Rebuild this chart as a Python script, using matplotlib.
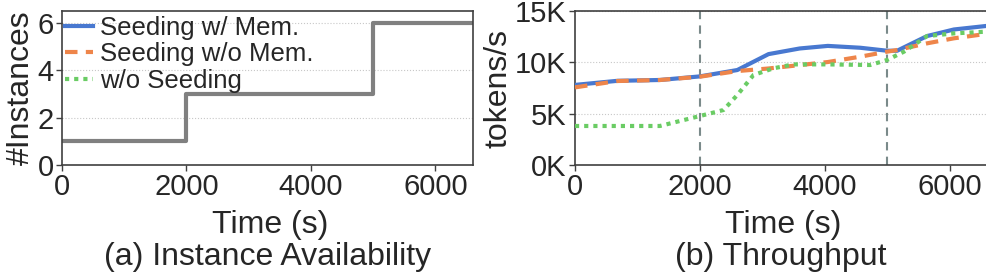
import matplotlib
matplotlib.use("Agg")
import matplotlib.pyplot as plt
from matplotlib.ticker import FuncFormatter

plt.rcParams['font.family'] = ['Liberation Sans', 'DejaVu Sans']
TXT = '#262626'

# ---- data ----
inst_time = [0, 2000, 5000, 6600]
inst_count = [1, 3, 6, 6]

t_mem = [0, 680, 1360, 2000, 2600, 3100, 3600, 4050, 4570, 5000, 5160, 5640, 6070, 6600]
seed_mem = [7800, 8200, 8280, 8630, 9250, 10800, 11350, 11600, 11420, 11130, 11130, 12560, 13200, 13550]

t_nomem = [0, 680, 1360, 2000, 2600, 3100, 3600, 4050, 4570, 5000, 5160, 5640, 6070, 6600]
seed_nomem = [7560, 8180, 8280, 8600, 9150, 9400, 9730, 10030, 10550, 11040, 11200, 11850, 12340, 12780]

t_noseed = [0, 700, 1360, 2000, 2380, 2600, 2860, 3180, 3500, 4040, 4730, 5000, 5270, 5640, 6070, 6600]
no_seed = [3800, 3800, 3800, 4770, 5360, 6820, 8770, 9420, 9800, 9800, 9740, 10230, 11040, 12560, 12820, 12990]

events = [2000, 5000]
labels = ["Seeding w/ Mem.", "Seeding w/o Mem.", "w/o Seeding"]
colors = ["#4878d0", "#ee854a", "#6acc64"]

W, H = 986, 273
fig = plt.figure(figsize=(W / 100, H / 100), dpi=100)
axL = fig.add_axes([62/W, 1-165/H, 410.7/W, 154/H])
axR = fig.add_axes([575/W, 1-165/H, 412/W, 154/H])

FS = 21
LFS = 23

def style(ax):
    for s in ax.spines.values():
        s.set_color('#404040')
        s.set_linewidth(1.2)
    ax.tick_params(axis='both', labelsize=FS, colors='#404040', labelcolor=TXT,
                   length=4, width=1.0, pad=2)
    ax.grid(axis='y', color='#c8c8c8', linestyle=':', linewidth=0.8)
    ax.set_axisbelow(True)

# left
axL.step(inst_time, inst_count, where='post', color='#808080', lw=3)
h1, = axL.plot([], [], color=colors[0], lw=3, label=labels[0])
h2, = axL.plot([], [], color=colors[1], lw=3, ls=(0, (3, 2)), label=labels[1])
h3, = axL.plot([], [], color=colors[2], lw=3, ls=(0, (1, 1.2)), label=labels[2])
axL.set_xlim(0, 6600)
axL.set_ylim(0, 6.5)
axL.set_yticks([0, 2, 4, 6])
axL.set_xticks([0, 2000, 4000, 6000])
axL.set_ylabel('#Instances', fontsize=LFS, color=TXT, labelpad=1)
style(axL)
leg = axL.legend(handles=[h1, h2, h3], loc='upper left', frameon=False,
                 fontsize=18.5, handlelength=1.1, handletextpad=0.28,
                 labelspacing=0.1, borderaxespad=0.0, borderpad=0.1,
                 bbox_to_anchor=(0.0, 0.985))
for t in leg.get_texts():
    t.set_color(TXT)

# right
for x in events:
    axR.axvline(x, color='#7a8a8a', ls=(0, (4, 3)), lw=1.5, zorder=1)
axR.plot(t_mem, seed_mem, color=colors[0], lw=3, zorder=3)
axR.plot(t_nomem, seed_nomem, color=colors[1], lw=3, ls=(0, (3, 2)), zorder=4)
axR.plot(t_noseed, no_seed, color=colors[2], lw=3, ls=(0, (1, 1.2)), zorder=5)
axR.set_xlim(0, 6600)
axR.set_ylim(0, 15000)
axR.set_yticks([0, 5000, 10000, 15000])
axR.set_xticks([0, 2000, 4000, 6000])
axR.yaxis.set_major_formatter(FuncFormatter(lambda v, p: f"{int(v/1000)}K"))
axR.set_ylabel('tokens/s', fontsize=LFS, color=TXT, labelpad=1)
style(axR)

cxL = (62 + 472.7) / 2 / W
cxR = (575 + 986) / 2 / W
for cx, cap in [(cxL, '(a) Instance Availability'), (cxR, '(b) Throughput')]:
    fig.text(cx + 3/W, 1 - 233/H, 'Time (s)', ha='center', va='baseline',
             fontsize=LFS, color=TXT)
    fig.text(cx, 1 - 265/H, cap, ha='center', va='baseline',
             fontsize=LFS, color=TXT)

fig.savefig('out.png', dpi=100)
